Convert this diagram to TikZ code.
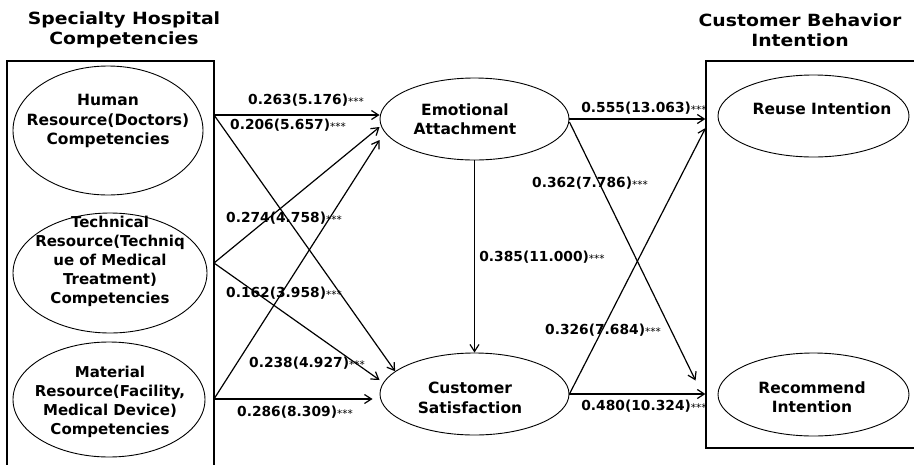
\documentclass[tikz,border=0pt]{standalone}
\usepackage{fontspec}
\setmainfont{DejaVu Sans}
\newfontfamily\titlefont{DejaVu Sans}[FakeStretch=1.12]
\usetikzlibrary{shapes.geometric, arrows.meta}
\newcommand{\threestar}{\raisebox{-0.1ex}{\fontsize{10.5}{10}\selectfont\mdseries ***}}

\begin{document}
\begin{tikzpicture}[
    x=1pt, y=-1pt,
    construct/.style = {ellipse, draw=black, line width=0.9pt, inner sep=0pt},
    group/.style = {rectangle, draw=black, line width=1.2pt, inner sep=0pt},
    ctext/.style = {align=center, inner sep=0pt, font=\bfseries\fontsize{15.5}{19.5}\selectfont},
    heading/.style = {align=center, inner sep=0pt, font=\titlefont\bfseries\fontsize{16.8}{20}\selectfont},
    coef/.style = {inner sep=0pt, font=\bfseries\fontsize{13.8}{16}\selectfont},
    line/.style = {draw, line width=1.2pt, -{Straight Barb[length=7pt,width=9pt]}},
]
\useasboundingbox (0,0) rectangle (914,464);

% Headings
\node [heading] (h-left) at (124,30) {Specialty Hospital\\Competencies};
\node [heading] (h-right) at (800,30) {Customer Behavior\\Intention};

% Groups
\node [group, minimum width=207pt, minimum height=406pt] (lbox) at (110.5,264) {};
\node [group, minimum width=212pt, minimum height=387pt] (rbox) at (812,254.5) {};

% Hospital competencies
\node [construct, minimum width=190pt, minimum height=129pt] (hr) at (108,130.5) {};
\node [ctext] (hr-txt) at (108,121) {Human\\Resource(Doctors)\\Competencies};
\node [construct, minimum width=194pt, minimum height=120pt] (tr) at (110,273) {};
\node [ctext, font=\bfseries\fontsize{15}{19}\selectfont] (tr-txt) at (110,261) {Technical\\Resource(Techniq\\ue of Medical\\Treatment)\\Competencies};
\node [construct, minimum width=192pt, minimum height=115pt] (mr) at (109,399.5) {};
\node [ctext, font=\bfseries\fontsize{15}{19}\selectfont] (mr-txt) at (110,402) {Material\\Resource(Facility,\\Medical Device)\\Competencies};

% Mediators
\node [construct, minimum width=189pt, minimum height=82pt] (emo) at (474.5,119) {};
\node [ctext] (emo-txt) at (465,119) {Emotional\\Attachment};
\node [construct, minimum width=189pt, minimum height=82pt] (cs) at (474.5,394) {};
\node [ctext] (cs-txt) at (470,398) {Customer\\Satisfaction};

% Behavior intention
\node [construct, minimum width=191pt, minimum height=82pt] (reuse) at (813.5,116) {};
\node [ctext] (reuse-txt) at (822,109) {Reuse Intention};
\node [construct, minimum width=191pt, minimum height=83pt] (rec) at (813.5,394.5) {};
\node [ctext] (rec-txt) at (812,397) {Recommend\\Intention};

% Start points on the group border
\coordinate (hr-out) at (214,115);
\coordinate (tr-out) at (214,263);
\coordinate (mr-out) at (214,399);

% Paths
\path [line] (hr-out) -- ([yshift=4pt]emo.west);
\path [line] (hr-out) -- (cs.164);
\path [line] (tr-out) -- ([yshift=-8pt]emo.west);
\path [line] (tr-out) -- ([yshift=14pt]cs.west);
\path [line] (mr-out) -- ([yshift=-21pt]emo.west);
\path [line] (mr-out) -- ([xshift=-7pt,yshift=-5pt]cs.west);

\path [line] (emo.south) -- (cs.north);

\path [line] (emo.east) -- (emo.east -| rbox.west);
\path [line] ([yshift=-3pt]emo.east) -- ([xshift=-22pt,yshift=14pt]rec.west);
\path [line] (cs.east) -- ([xshift=-12pt,yshift=-12pt]reuse.west);
\path [line] (cs.east) -- (cs.east -| rbox.west);

% Path coefficients
\node [coef] (c1) at (306,100) {0.263(5.176)\threestar};
\node [coef] (c2) at (288,125) {0.206(5.657)\threestar};
\node [coef] (c3) at (284,218) {0.274(4.758)\threestar};
\node [coef] (c4) at (284,293) {0.162(3.958)\threestar};
\node [coef] (c5) at (307,363) {0.238(4.927)\threestar};
\node [coef] (c6) at (295,412) {0.286(8.309)\threestar};
\node [coef] (c7) at (542,257) {0.385(11.000)\threestar};
\node [coef] (c8) at (644,108) {0.555(13.063)\threestar};
\node [coef] (c9) at (590,183) {0.362(7.786)\threestar};
\node [coef] (c10) at (603,330) {0.326(7.684)\threestar};
\node [coef] (c11) at (644,406) {0.480(10.324)\threestar};

\end{tikzpicture}
\end{document}
